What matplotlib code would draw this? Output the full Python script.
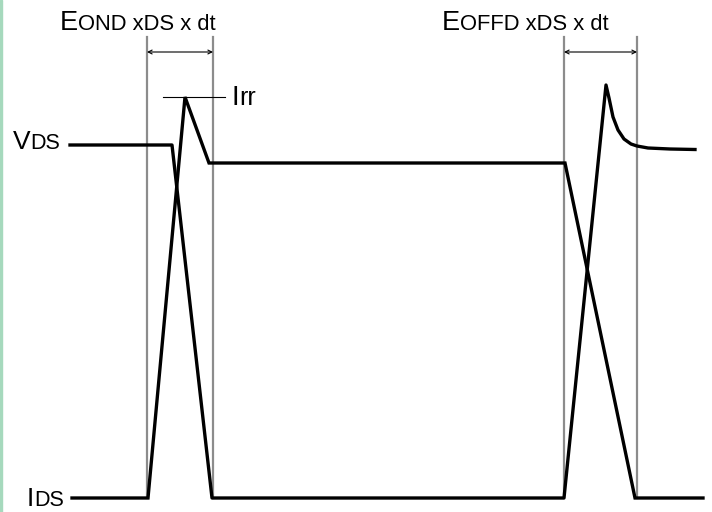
import matplotlib
matplotlib.use("Agg")
import matplotlib.pyplot as plt
from matplotlib.patches import Rectangle

plt.rcParams['font.family'] = ['Liberation Sans', 'DejaVu Sans']

# waveform points (time axis ~ pixels, level axis ~ pixels from top)
ids_t = [72, 148, 185, 209, 565, 635, 703]
ids_v = [498, 498, 97, 163, 163, 498, 498]

vds_t = [70, 172, 212, 564, 606, 609, 613, 618, 624, 631, 637, 648, 670, 695]
vds_v = [145, 145, 498, 498, 85, 98, 117, 130, 139, 144, 146, 148, 149, 149.5]

# switching windows (gray markers)
win_on = [147, 213]
win_off = [564, 637]
win_top = 37
win_bottom = 498
arrow_y = 52

irr_level = 97
irr_span = [163, 225]

fig = plt.figure(figsize=(7.12, 5.12), dpi=100)
ax = fig.add_axes([0, 0, 1, 1])
ax.set_xlim(0, 712)
ax.set_ylim(512, 0)
ax.axis('off')

# left green border
fig.patches.append(Rectangle((0, 0), 2 / 712, 1, transform=fig.transFigure,
                             color='#a6d9bd', zorder=0))

gray = '#8c8c8c'
for x in win_on + win_off:
    ax.plot([x, x], [win_top, win_bottom], color=gray, lw=1.6, zorder=1)

for a, b in (win_on, win_off):
    ax.annotate('', xy=(b, arrow_y), xytext=(a, arrow_y),
                arrowprops=dict(arrowstyle='<->', color='black', lw=0.8,
                                mutation_scale=7, shrinkA=0, shrinkB=0))

ax.plot(irr_span, [irr_level, irr_level], color='black', lw=0.8, zorder=2)

ax.plot(ids_t, ids_v, color='black', lw=2.4, solid_joinstyle='miter', zorder=3)
ax.plot(vds_t, vds_v, color='black', lw=2.4, solid_joinstyle='round', zorder=3)

renderer = fig.canvas.get_renderer()


def label(x, y, parts):
    for s, size in parts:
        t = ax.text(x, y, s, fontsize=size, va='baseline', ha='left')
        bb = t.get_window_extent(renderer)
        x = ax.transData.inverted().transform((bb.x1, bb.y0))[0]


label(60, 30, [('E', 19.5), ('OND xDS x dt', 15.8)])
label(442, 30, [('E', 19.5), ('OFFD xDS x dt', 15.8)])
label(13, 149, [('V', 19), ('DS', 15.5)])
label(27, 506, [('I', 19), ('DS', 15.5)])
label(232, 105, [('I', 20), ('rr', 18)])

fig.savefig('out.png', dpi=100)
